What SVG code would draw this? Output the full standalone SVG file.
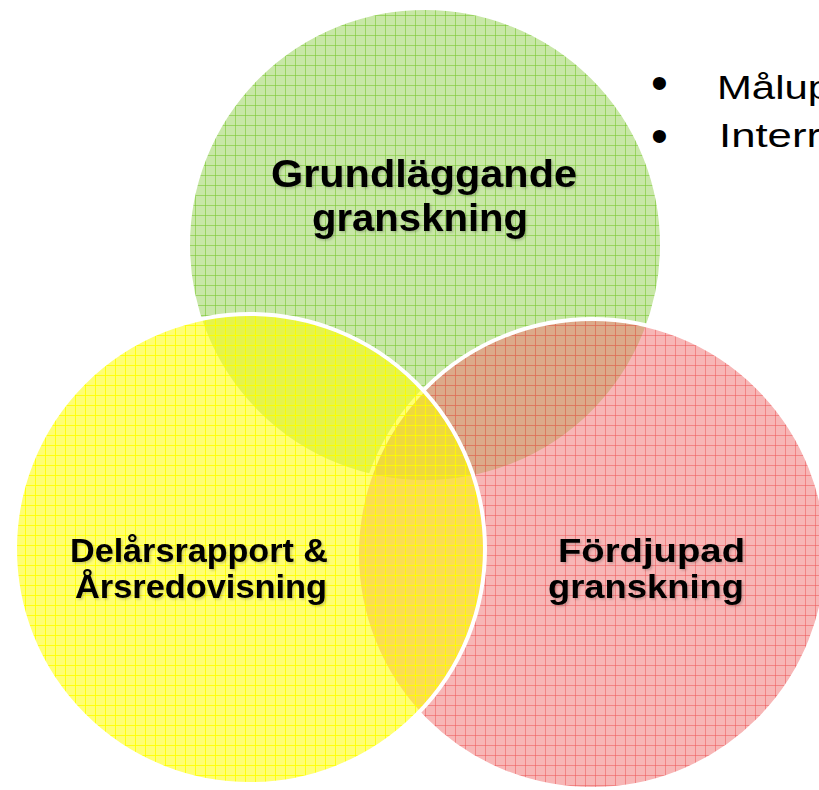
<svg xmlns="http://www.w3.org/2000/svg" width="819" height="790" viewBox="0 0 819 790">
<style>
.lbl{font-family:"Liberation Sans",Arial,sans-serif;font-weight:bold;fill:#000}
.bul{font-family:"Liberation Sans",Arial,sans-serif;fill:#000}
.ring{stroke:#fff;stroke-width:4}
</style>
<defs>
<pattern id="gG" patternUnits="userSpaceOnUse" width="10" height="10"><path d="M0 5.5H10M5.5 0V10" stroke="#7cc832" stroke-width="1" stroke-opacity="0.6"/></pattern>
<pattern id="gR" patternUnits="userSpaceOnUse" width="10" height="10"><path d="M0 5.5H10M5.5 0V10" stroke="#ee5a5a" stroke-width="1" stroke-opacity="0.55"/></pattern>
<pattern id="gY" patternUnits="userSpaceOnUse" width="10" height="10"><path d="M0 5.5H10M5.5 0V10" stroke="#ffff00" stroke-width="1" stroke-opacity="0.85"/></pattern>
<filter id="sh" x="-5%" y="-5%" width="110%" height="120%"><feDropShadow dx="1.5" dy="1.5" stdDeviation="0.8" flood-color="#000" flood-opacity="0.2"/></filter>
</defs>
<g id="green">
<circle cx="425" cy="245" r="237" fill="#92d050" fill-opacity="0.5"/>
<circle cx="425" cy="245" r="237" fill="url(#gG)" class="ring"/>
</g>
<g id="red">
<circle cx="592" cy="554" r="235" fill="#f06e6e" fill-opacity="0.5"/>
<circle cx="592" cy="554" r="235" fill="url(#gR)" class="ring"/>
</g>
<g id="yellow">
<circle cx="250" cy="549" r="235" fill="#ffff00" fill-opacity="0.55"/>
<circle cx="250" cy="549" r="235" fill="url(#gY)" class="ring"/>
</g>
<g id="labels" filter="url(#sh)">
<text class="lbl" font-size="39" x="271" y="187" textLength="306" lengthAdjust="spacingAndGlyphs">Grundläggande</text>
<text class="lbl" font-size="39" x="312" y="231" textLength="216" lengthAdjust="spacingAndGlyphs">granskning</text>
<text class="lbl" font-size="34" x="70" y="562" textLength="258" lengthAdjust="spacingAndGlyphs">Delårsrapport &amp;</text>
<text class="lbl" font-size="34" x="75" y="598" textLength="252" lengthAdjust="spacingAndGlyphs">Årsredovisning</text>
<text class="lbl" font-size="34" x="558" y="562" textLength="187" lengthAdjust="spacingAndGlyphs">Fördjupad</text>
<text class="lbl" font-size="34" x="548" y="598" textLength="196" lengthAdjust="spacingAndGlyphs">granskning</text>
</g>
<g id="bullets">
<text class="bul" font-size="48" x="651" y="98.5">•</text>
<text class="bul" font-size="48" x="651" y="152">•</text>
<text class="bul" font-size="34" x="717" y="99" textLength="114" lengthAdjust="spacingAndGlyphs">Målup</text>
<text class="bul" font-size="34" x="719" y="147" textLength="102" lengthAdjust="spacingAndGlyphs">Interr</text>
</g>
</svg>
